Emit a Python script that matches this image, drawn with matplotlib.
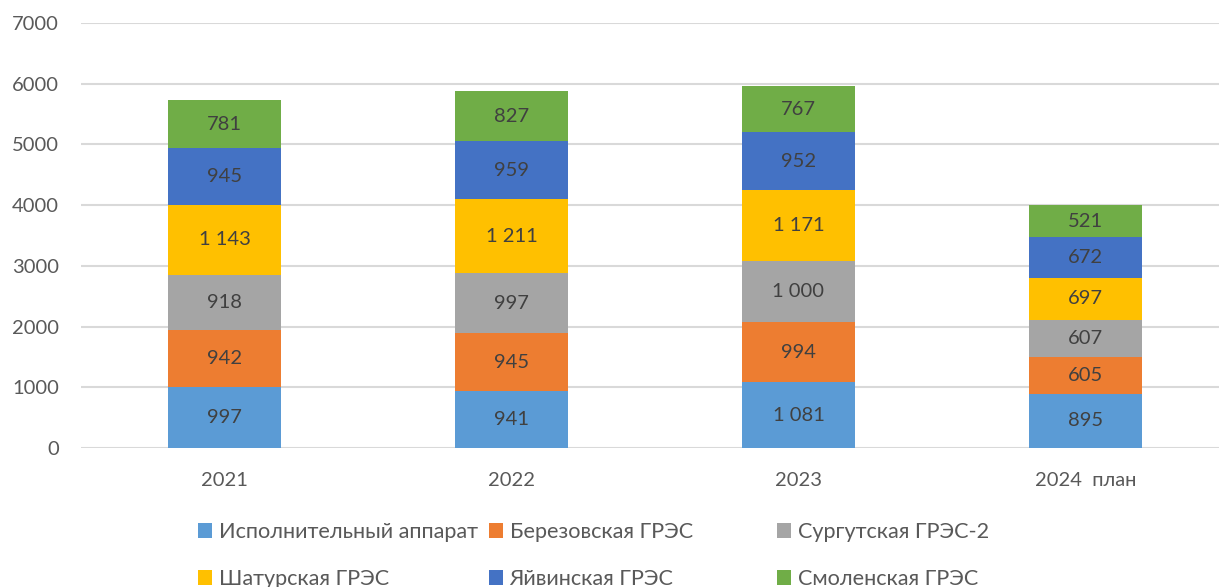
import matplotlib
matplotlib.use("Agg")
import matplotlib.pyplot as plt
import numpy as np
from matplotlib.patches import Patch

plt.rcParams['font.family'] = ['Lato', 'DejaVu Sans']

years = ["2021", "2022", "2023", "2024  план"]
series_names = ["Исполнительный аппарат", "Березовская ГРЭС", "Сургутская ГРЭС-2",
                "Шатурская ГРЭС", "Яйвинская ГРЭС", "Смоленская ГРЭС"]
ispolnit = [997, 941, 1081, 895]
berezov = [942, 945, 994, 605]
surgut = [918, 997, 1000, 607]
shatur = [1143, 1211, 1171, 697]
yayvin = [945, 959, 952, 672]
smolensk = [781, 827, 767, 521]
yticks = [0, 1000, 2000, 3000, 4000, 5000, 6000, 7000]

colors = ["#5B9BD5", "#ED7D31", "#A5A5A5", "#FFC000", "#4472C4", "#70AD47"]
label_color = "#404040"
tick_color = "#595959"

W, H = 1219, 587
fig = plt.figure(figsize=(W / 100, H / 100), dpi=100)
ax = fig.add_axes([81 / W, 139 / H, 1148 / W, 425 / H])

x = np.arange(len(years))
bottom = np.zeros(len(years))
all_series = [ispolnit, berezov, surgut, shatur, yayvin, smolensk]
for vals, col in zip(all_series, colors):
    vals = np.array(vals)
    ax.bar(x, vals, 0.397, bottom=bottom, color=col, zorder=3)
    for xi, b, v in zip(x, bottom, vals):
        ax.text(xi, b + v / 2, f"{v:,}".replace(",", " "), ha="center", va="center",
                fontsize=14.5, color=label_color, zorder=4)
    bottom += vals

ax.set_xlim(-0.5, 3.5)
ax.set_ylim(0, 7000)
ax.set_yticks(yticks)
ax.set_xticks(x)
ax.set_xticklabels(years)
ax.yaxis.grid(True, color="#D9D9D9", linewidth=1.5, zorder=0)
ax.tick_params(axis='both', length=0, labelsize=14.5, colors=tick_color)
ax.tick_params(axis='x', pad=17)
ax.tick_params(axis='y', pad=16)
for s in ax.spines.values():
    s.set_visible(False)

# legend: three columns laid out row by row
col_x = [198, 489, 777]
for c in range(3):
    idx = [c, c + 3]
    handles = [Patch(facecolor=colors[i], edgecolor="none") for i in idx]
    leg = fig.legend(handles, [series_names[i] for i in idx], loc="upper left",
                     bbox_to_anchor=(col_x[c] / W, 1 - 522 / H), frameon=False,
                     fontsize=15.6, borderpad=0, borderaxespad=0,
                     handlelength=0.65, handleheight=0.65, handletextpad=0.3,
                     labelspacing=1.25)
    for t in leg.get_texts():
        t.set_color(tick_color)

fig.savefig("out.png", dpi=100)
